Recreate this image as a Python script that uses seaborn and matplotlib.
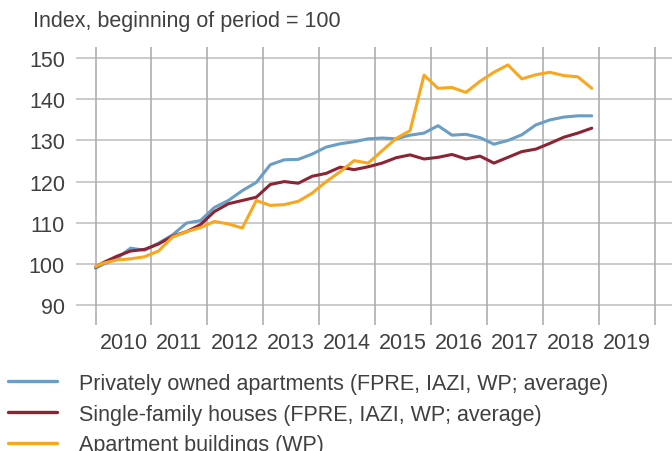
import matplotlib
matplotlib.use("Agg")
import matplotlib.pyplot as plt
import seaborn as sns
import pandas as pd
import numpy as np

# Quarterly price indices (start of 2010 = base, then quarter midpoints)
quarters = [2010.0] + [2010.125 + 0.25 * i for i in range(36)]

privately_owned = [98.9, 99.8, 101.2, 103.8, 103.3, 105.0, 107.0, 109.9, 110.5,
                   113.7, 115.4, 117.8, 119.8, 124.1, 125.3, 125.4, 126.7,
                   128.4, 129.2, 129.7, 130.4, 130.6, 130.4, 131.3, 131.8,
                   133.6, 131.3, 131.5, 130.7, 129.1, 130.0, 131.4, 133.8,
                   135.0, 135.7, 136.0, 136.0]
single_family = [99.2, 100.2, 101.8, 103.1, 103.5, 104.8, 106.7, 107.8, 109.5,
                 112.7, 114.6, 115.4, 116.2, 119.3, 120.0, 119.6, 121.3,
                 122.0, 123.5, 122.9, 123.6, 124.5, 125.8, 126.5, 125.5,
                 125.9, 126.6, 125.5, 126.2, 124.5, 125.9, 127.3, 127.9,
                 129.3, 130.8, 131.8, 133.0]
apartment_buildings = [99.3, 100.1, 100.9, 101.2, 101.7, 103.1, 106.5, 107.8, 108.8,
                       110.3, 109.7, 108.7, 115.4, 114.2, 114.4, 115.2, 117.2,
                       120.0, 122.4, 125.1, 124.5, 127.5, 130.5, 132.4, 145.9,
                       142.7, 142.9, 141.7, 144.4, 146.6, 148.4, 145.0, 146.0,
                       146.6, 145.8, 145.5, 142.7]

series_names = ["Privately owned apartments (FPRE, IAZI, WP; average)",
                "Single-family houses (FPRE, IAZI, WP; average)",
                "Apartment buildings (WP)"]
series_colors = ["#6b9ec4", "#8c2434", "#f8a71f"]
year_labels = [str(y) for y in range(2010, 2020)]
y_ticks = [90, 100, 110, 120, 130, 140, 150]

df = pd.concat([
    pd.DataFrame({"quarter": quarters, "index": vals, "series": name})
    for name, vals in zip(series_names,
                          [privately_owned, single_family, apartment_buildings])
])

sns.set_style("white")
plt.rcParams["font.family"] = ["Liberation Sans", "DejaVu Sans"]
text_color = "#404040"
fs = 15.5

fig = plt.figure(figsize=(6.72, 4.52), dpi=100)
ax = fig.add_axes([76 / 672, 1 - 326 / 452, 1 - 76 / 672, (326 - 48) / 452])

sns.lineplot(data=df, x="quarter", y="index", hue="series",
             palette=dict(zip(series_names, series_colors)),
             linewidth=2.2, ax=ax, legend=False, zorder=3)

ax.set_xlim(2009.65, 2020.31)
ax.set_ylim(85.1, 152.75)

# horizontal grid at the labelled values
for v in y_ticks:
    ax.axhline(v, color="#bdbdbd", linewidth=1.1, zorder=1)
# vertical year separators over the full height
for yr in range(2010, 2021):
    ax.axvline(yr, color="#a8a8a8", linewidth=1.1, zorder=1)

ax.set_yticks(y_ticks)
ax.set_yticklabels([str(v) for v in y_ticks])
ax.set_xticks([y + 0.5 for y in range(2010, 2020)])
ax.set_xticklabels(year_labels)
ax.tick_params(axis="both", length=0, labelsize=fs, labelcolor=text_color)
ax.tick_params(axis="y", pad=8)
ax.tick_params(axis="x", pad=5)
ax.set_xlabel("")
ax.set_ylabel("")
for s in ax.spines.values():
    s.set_visible(False)

fig.text(33 / 672, 1 - 21 / 452, "Index, beginning of period = 100",
         fontsize=fs, color=text_color, va="center", ha="left")

handles = [plt.Line2D([], [], color=c, linewidth=2.4) for c in series_colors]
fig.legend(handles, series_names, loc="upper left",
           bbox_to_anchor=(0.0, 1 - 366 / 452), frameon=False,
           fontsize=fs, labelcolor=text_color, handlelength=2.28,
           handletextpad=1.0, labelspacing=0.45, borderaxespad=0,
           borderpad=0.37)

fig.savefig("out.png", dpi=100)
